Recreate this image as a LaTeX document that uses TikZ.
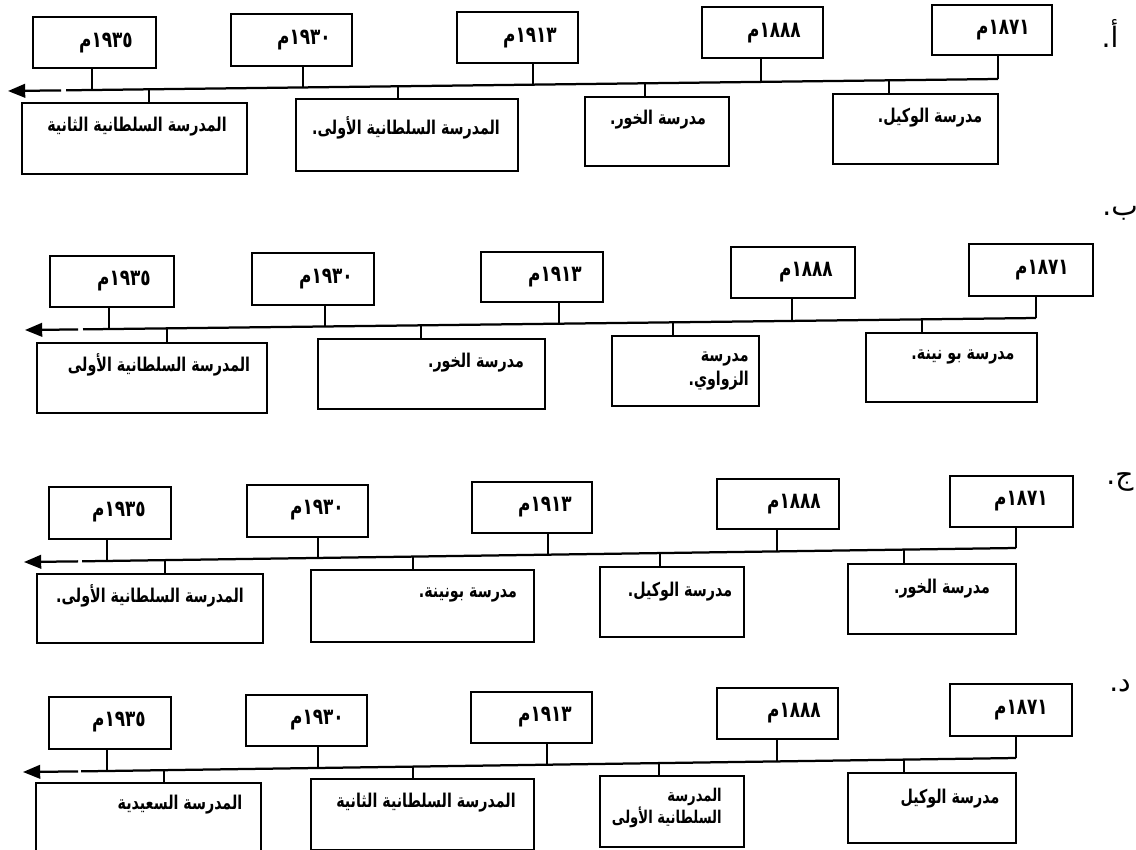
\documentclass[tikz,border=0pt]{standalone}
\usepackage{fontspec}
\newfontfamily\arabicfont[Script=Arabic]{DejaVu Sans}
\newfontfamily\arabicnarrow[Script=Arabic, FakeStretch=0.75]{DejaVu Sans}
\TeXXeTstate=1
\usetikzlibrary{arrows.meta,fit,calc}
\tikzset{
  ln/.style={line width=1.6pt},
  box/.style={draw, line width=1.6pt, inner sep=0pt},
  yr/.style={font=\arabicnarrow\bfseries\fontsize{16}{18}\selectfont, inner sep=0pt},
  sch/.style={font=\arabicnarrow\bfseries\fontsize{13.5}{15}\selectfont, inner sep=0pt},
  two/.style={font=\arabicnarrow\bfseries\fontsize{13.5}{17}\selectfont, inner sep=0pt, align=right},
  sm/.style={font=\arabicnarrow\bfseries\fontsize{12.5}{14.5}\selectfont, inner sep=0pt, align=right},
  lbl/.style={font=\arabicfont\fontsize{20}{22}\selectfont, inner sep=0pt},
  arr/.style={ln, -{Triangle[length=4.3mm,width=3.4mm]}}
}
\newcommand\tstem[3]{%
  \coordinate (#1j) at (intersection of #3S--#3E and #2,0--#2,10);
  \draw[ln] (#1.south -| #1j) -- (#1j);}
\newcommand\bstem[3]{%
  \coordinate (#1j) at (intersection of #3S--#3E and #2,0--#2,10);
  \draw[ln] (#1j) -- (#1.north -| #1j);}
\newcommand\mainline[3]{%
  \coordinate (#1G1) at (intersection of #1S--#1E and #2,0--#2,10);
  \coordinate (#1G2) at (intersection of #1S--#1E and #3,0--#3,10);
  \draw[ln] (#1E) -- (#1G2);
  \draw[arr] (#1G1) -- (#1S);}
\newcommand\AR[1]{\beginR #1\endR}
\begin{document}
\begin{tikzpicture}[x=0.25mm,y=-0.25mm]
\clip (0,0) rectangle (1136,849);
\fill[white] (0,0) rectangle (1136,849);

% ---------------- panel a
\coordinate (aS) at (8,91);
\coordinate (aE) at (998,79);
\mainline{a}{61}{66}
\node[box, fit={(33,17) (156,68)}] (at1) {};
\node[box, fit={(231,14) (352,66)}] (at2) {};
\node[box, fit={(457,12) (578,63)}] (at3) {};
\node[box, fit={(702,7) (823,58)}] (at4) {};
\node[box, fit={(932,5) (1052,55)}] (at5) {};
\node[yr] (at1t) at (106,43) {\AR{١٩٣٥م}};
\node[yr] (at2t) at (304,40) {\AR{١٩٣٠م}};
\node[yr] (at3t) at (530,38) {\AR{١٩١٣م}};
\node[yr] (at4t) at (774,33) {\AR{١٨٨٨م}};
\node[yr] (at5t) at (1003,30) {\AR{١٨٧١م}};
\tstem{at1}{92}{a}\tstem{at2}{303}{a}\tstem{at3}{533}{a}\tstem{at4}{761}{a}\tstem{at5}{998}{a}
\node[box, fit={(22,103) (247,174)}] (ab1) {};
\node[box, fit={(296,99) (518,171)}] (ab2) {};
\node[box, fit={(585,97) (729,166)}] (ab3) {};
\node[box, fit={(833,94) (998,164)}] (ab4) {};
\node[sch] (ab1t) at (137,127) {\AR{المدرسة السلطانية الثانية}};
\node[sch] (ab2t) at (406,128) {\AR{المدرسة السلطانية الأولى.}};
\node[sch] (ab3t) at (658,120) {\AR{مدرسة الخور.}};
\node[sch] (ab4t) at (930,118) {\AR{مدرسة الوكيل.}};
\bstem{ab1}{149}{a}\bstem{ab2}{398}{a}\bstem{ab3}{645}{a}\bstem{ab4}{889}{a}
\node[lbl] (la) at (1110,33) {\AR{أ.}};

% ---------------- panel b
\coordinate (bS) at (25,330);
\coordinate (bE) at (1036,318);
\mainline{b}{78}{83}
\node[box, fit={(50,256) (174,307)}] (bt1) {};
\node[box, fit={(252,253) (374,305)}] (bt2) {};
\node[box, fit={(481,252) (603,302)}] (bt3) {};
\node[box, fit={(731,247) (855,298)}] (bt4) {};
\node[box, fit={(969,244) (1093,296)}] (bt5) {};
\node[yr] (bt1t) at (124,281) {\AR{١٩٣٥م}};
\node[yr] (bt2t) at (326,279) {\AR{١٩٣٠م}};
\node[yr] (bt3t) at (555,277) {\AR{١٩١٣م}};
\node[yr] (bt4t) at (806,272) {\AR{١٨٨٨م}};
\node[yr] (bt5t) at (1042,270) {\AR{١٨٧١م}};
\tstem{bt1}{109}{b}\tstem{bt2}{325}{b}\tstem{bt3}{559}{b}\tstem{bt4}{792}{b}\tstem{bt5}{1036}{b}
\node[box, fit={(37,343) (267,413)}] (bb1) {};
\node[box, fit={(318,339) (545,409)}] (bb2) {};
\node[box, fit={(612,336) (759,406)}] (bb3) {};
\node[box, fit={(866,333) (1037,402)}] (bb4) {};
\node[sch] (bb1t) at (159,365) {\AR{المدرسة السلطانية الأولى}};
\node[sch] (bb2t) at (476,363) {\AR{مدرسة الخور.}};
\node[two, anchor=east] (bb3t) at (749,371) {\AR{مدرسة}\\\AR{الزواوي.}};
\node[sch] (bb4t) at (963,357) {\AR{مدرسة بو نينة.}};
\bstem{bb1}{167}{b}\bstem{bb2}{421}{b}\bstem{bb3}{673}{b}\bstem{bb4}{922}{b}
\node[lbl] (lb) at (1120,213) {\AR{ب.}};

% ---------------- panel c
\coordinate (cS) at (24,562);
\coordinate (cE) at (1016,548);
\mainline{c}{78}{82}
\node[box, fit={(49,487) (171,539)}] (ct1) {};
\node[box, fit={(247,485) (368,537)}] (ct2) {};
\node[box, fit={(472,482) (592,533)}] (ct3) {};
\node[box, fit={(717,479) (839,529)}] (ct4) {};
\node[box, fit={(950,476) (1073,527)}] (ct5) {};
\node[yr] (ct1t) at (119,512) {\AR{١٩٣٥م}};
\node[yr] (ct2t) at (317,510) {\AR{١٩٣٠م}};
\node[yr] (ct3t) at (545,507) {\AR{١٩١٣م}};
\node[yr] (ct4t) at (794,504) {\AR{١٨٨٨م}};
\node[yr] (ct5t) at (1021,501) {\AR{١٨٧١م}};
\tstem{ct1}{107}{c}\tstem{ct2}{318}{c}\tstem{ct3}{548}{c}\tstem{ct4}{777}{c}\tstem{ct5}{1016}{c}
\node[box, fit={(37,574) (263,643)}] (cb1) {};
\node[box, fit={(311,570) (534,642)}] (cb2) {};
\node[box, fit={(600,567) (744,637)}] (cb3) {};
\node[box, fit={(848,564) (1016,634)}] (cb4) {};
\node[sch] (cb1t) at (150,596) {\AR{المدرسة السلطانية الأولى.}};
\node[sch] (cb2t) at (468,595) {\AR{مدرسة بونينة.}};
\node[sch] (cb3t) at (680,592) {\AR{مدرسة الوكيل.}};
\node[sch] (cb4t) at (942,589) {\AR{مدرسة الخور.}};
\bstem{cb1}{165}{c}\bstem{cb2}{413}{c}\bstem{cb3}{660}{c}\bstem{cb4}{904}{c}
\node[lbl] (lc) at (1120,482) {\AR{ج.}};

% ---------------- panel d
\coordinate (dS) at (23,772);
\coordinate (dE) at (1016,758);
\mainline{d}{78}{81}
\node[box, fit={(49,697) (171,749)}] (dt1) {};
\node[box, fit={(246,695) (367,746)}] (dt2) {};
\node[box, fit={(471,692) (592,743)}] (dt3) {};
\node[box, fit={(717,688) (838,739)}] (dt4) {};
\node[box, fit={(950,684) (1072,736)}] (dt5) {};
\node[yr] (dt1t) at (119,722) {\AR{١٩٣٥م}};
\node[yr] (dt2t) at (317,720) {\AR{١٩٣٠م}};
\node[yr] (dt3t) at (545,717) {\AR{١٩١٣م}};
\node[yr] (dt4t) at (794,713) {\AR{١٨٨٨م}};
\node[yr] (dt5t) at (1021,710) {\AR{١٨٧١م}};
\tstem{dt1}{107}{d}\tstem{dt2}{318}{d}\tstem{dt3}{547}{d}\tstem{dt4}{777}{d}\tstem{dt5}{1016}{d}
\node[box, fit={(36,783) (261,862)}] (db1) {};
\node[box, fit={(311,779) (534,850)}] (db2) {};
\node[box, fit={(600,776) (744,847)}] (db3) {};
\node[box, fit={(848,773) (1016,843)}] (db4) {};
\node[sch] (db1t) at (180,805) {\AR{المدرسة السعيدية}};
\node[sch] (db2t) at (426,803) {\AR{المدرسة السلطانية الثانية}};
\node[sm, anchor=east] (db3t) at (722,808) {\AR{المدرسة}\\\AR{السلطانية الأولى}};
\node[sch] (db4t) at (950,799) {\AR{مدرسة الوكيل}};
\bstem{db1}{164}{d}\bstem{db2}{413}{d}\bstem{db3}{659}{d}\bstem{db4}{904}{d}
\node[lbl] (ld) at (1120,686) {\AR{د.}};
\end{tikzpicture}
\end{document}
